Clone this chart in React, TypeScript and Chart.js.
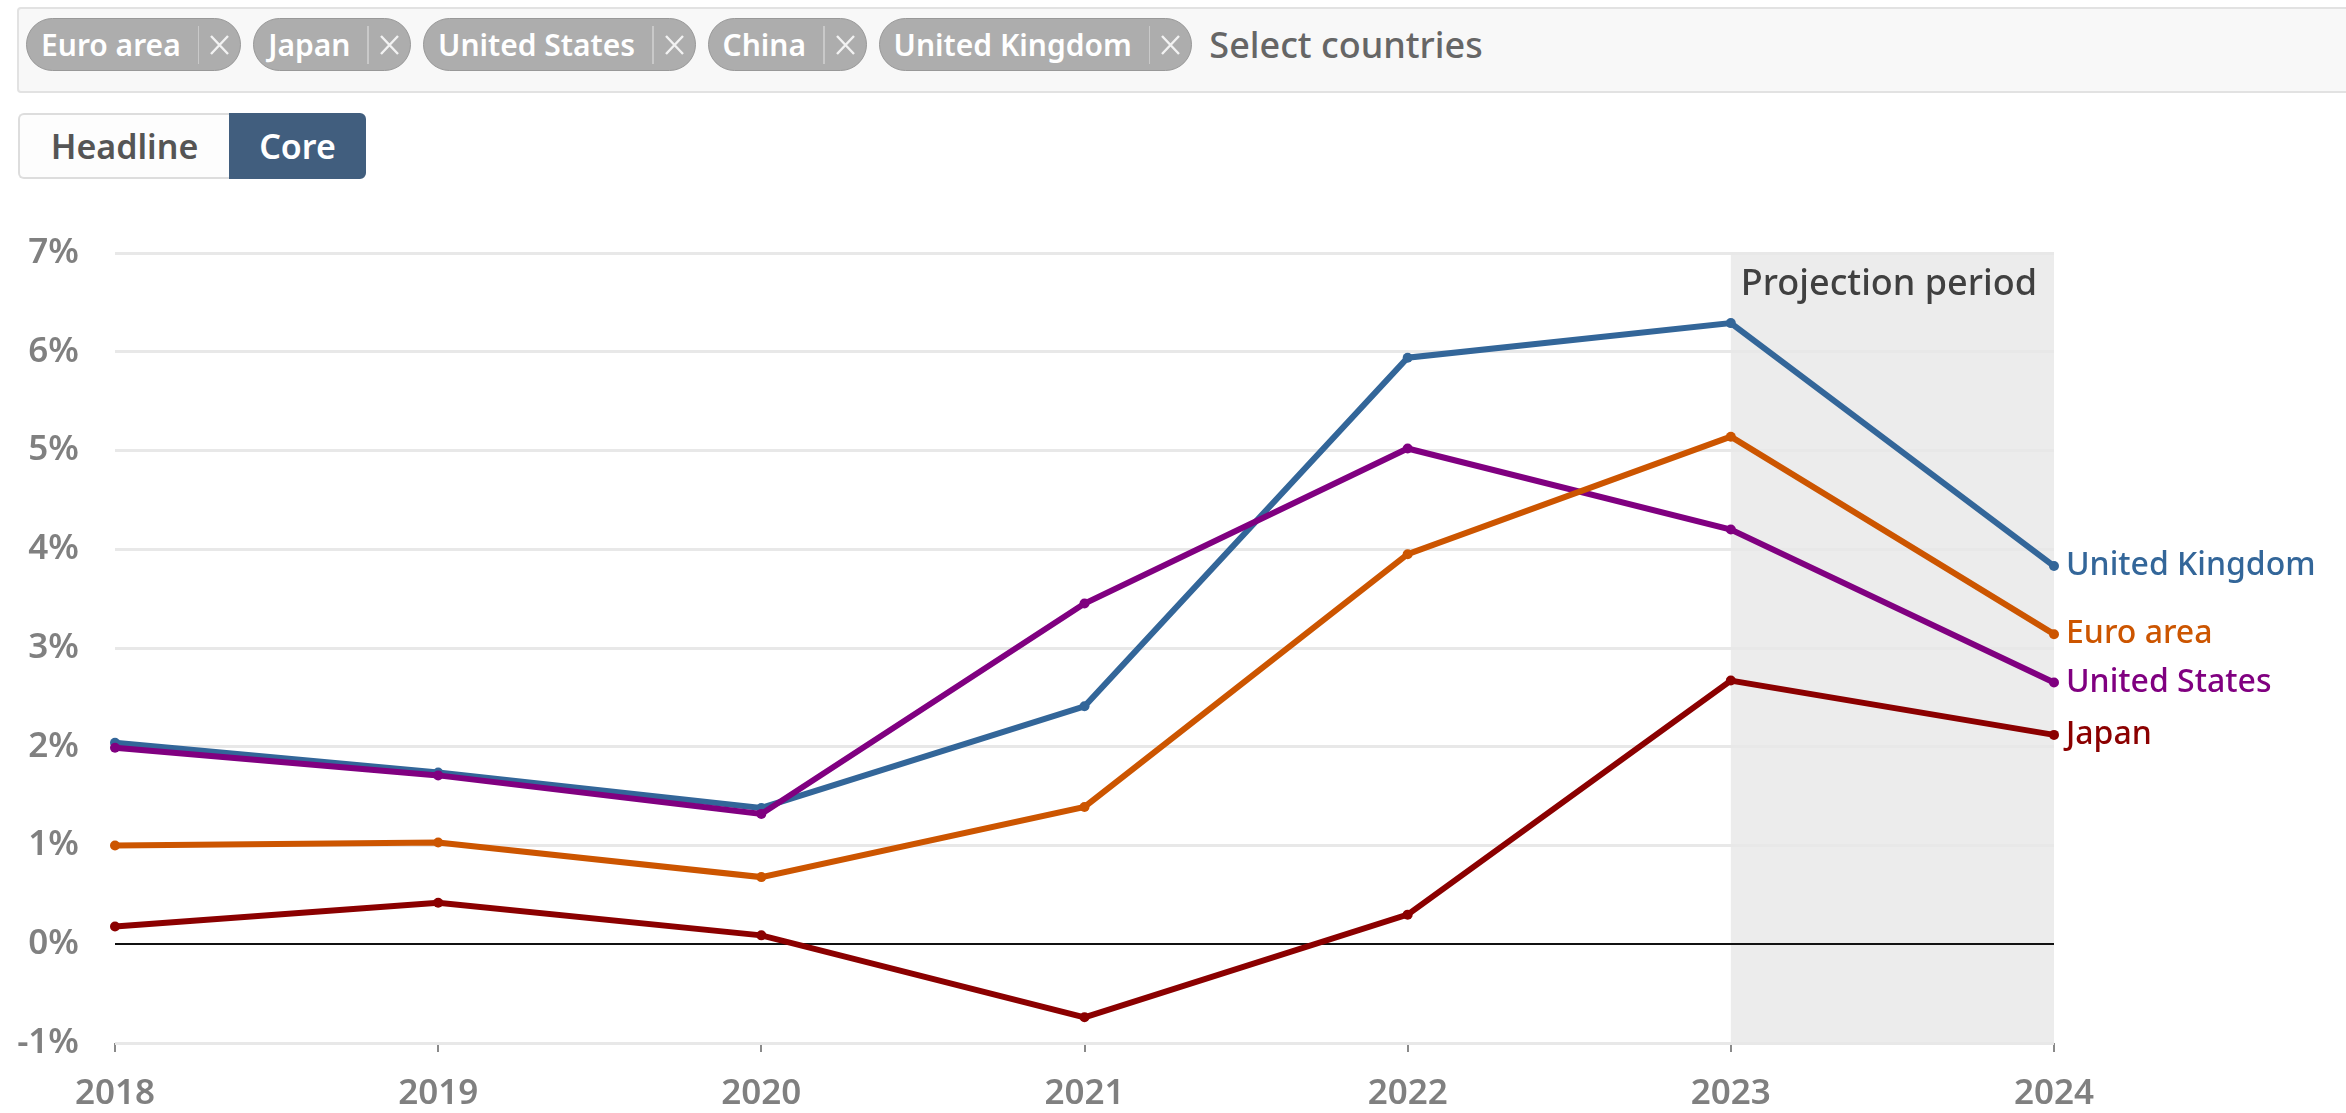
import React, { useEffect, useRef } from "react";
import { Chart, registerables } from "chart.js";

Chart.register(...registerables);

const years = ["2018", "2019", "2020", "2021", "2022", "2023", "2024"];
const euroArea = [1.0, 1.03, 0.68, 1.39, 3.95, 5.14, 3.14];
const japan = [0.18, 0.42, 0.09, -0.74, 0.3, 2.67, 2.12];
const unitedStates = [1.99, 1.71, 1.32, 3.45, 5.02, 4.2, 2.65];
const unitedKingdom = [2.04, 1.74, 1.38, 2.41, 5.94, 6.29, 3.83];
const countryChips = ["Euro area", "Japan", "United States", "China", "United Kingdom"];
const modeButtons = ["Headline", "Core"];
const projectionFrom = "2023";
const projectionTo = "2024";
const projectionLabel = "Projection period";
const yMin = -1;
const yMax = 7;

const seriesList = [
  { label: "Euro area", data: euroArea, color: "#cc5500" },
  { label: "Japan", data: japan, color: "#8b0000" },
  { label: "United States", data: unitedStates, color: "#800080" },
  { label: "United Kingdom", data: unitedKingdom, color: "#336699" },
];

const FONT = "'Noto Sans', 'Open Sans', sans-serif";

function Chip({ label }: { label: string }) {
  return (
    <div
      style={{
        display: "flex",
        alignItems: "center",
        height: 53,
        boxSizing: "border-box",
        background: "#adadad",
        border: "1.5px solid #999",
        borderRadius: 27,
        paddingLeft: 14,
        marginRight: 12,
      }}
    >
      <span style={{ color: "#fff", fontWeight: 600, fontSize: 30, lineHeight: "1", whiteSpace: "nowrap" }}>{label}</span>
      <span style={{ width: 1.5, height: 38, background: "#c9c9c9", marginLeft: 17 }} />
      <svg width="21" height="20" viewBox="0 0 21 20" style={{ marginLeft: 10, marginRight: 10 }}>
        <path d="M2 1 L19 19 M19 1 L2 19" stroke="#f2f2f2" strokeWidth="2.4" />
      </svg>
    </div>
  );
}

export default function App() {
  const canvasRef = useRef<HTMLCanvasElement | null>(null);

  useEffect(() => {
    const canvas = canvasRef.current;
    if (!canvas) return;

    const overlay = {
      id: "overlay",
      beforeDraw(chart: any) {
        const { ctx, chartArea, scales } = chart;
        const x0 = scales.x.getPixelForValue(years.indexOf(projectionFrom));
        const x1 = scales.x.getPixelForValue(years.indexOf(projectionTo));
        ctx.save();
        ctx.fillStyle = "#ececec";
        ctx.fillRect(x0, chartArea.top, x1 - x0, chartArea.bottom - chartArea.top);
        ctx.restore();
      },
      afterDatasetsDraw(chart: any) {
        const { ctx, chartArea, scales } = chart;
        const x0 = scales.x.getPixelForValue(years.indexOf(projectionFrom));
        ctx.save();
        ctx.font = `500 36px ${FONT}`;
        ctx.fillStyle = "#404040";
        ctx.textAlign = "left";
        ctx.textBaseline = "alphabetic";
        ctx.fillText(projectionLabel, x0 + 10, chartArea.top + 42);
        chart.data.datasets.forEach((ds: any, i: number) => {
          const meta = chart.getDatasetMeta(i);
          const pt = meta.data[meta.data.length - 1];
          if (!pt) return;
          ctx.font = `500 32px ${FONT}`;
          ctx.fillStyle = ds.borderColor;
          ctx.textBaseline = "middle";
          ctx.fillText(ds.label, pt.x + 12, pt.y);
        });
        ctx.restore();
      },
    };

    const chart = new Chart(canvas, {
      type: "line",
      data: {
        labels: years,
        datasets: seriesList.map((s) => ({
          label: s.label,
          data: s.data,
          borderColor: s.color,
          backgroundColor: s.color,
          pointBackgroundColor: s.color,
          pointBorderColor: s.color,
          borderWidth: 6,
          pointRadius: 5,
          pointBorderWidth: 0,
          tension: 0,
          fill: false,
        })),
      },
      options: {
        animation: false,
        responsive: false,
        devicePixelRatio: 1,
        layout: { padding: { left: 0, top: 63, right: 292, bottom: 0 } },
        plugins: {
          legend: { display: false },
          tooltip: { enabled: false },
          title: { display: false },
        },
        scales: {
          x: {
            type: "category",
            offset: false,
            border: { display: false },
            grid: {
              display: true,
              drawOnChartArea: false,
              drawTicks: true,
              tickLength: 9,
              color: "#8a8a8a",
              lineWidth: 2,
            },
            ticks: {
              padding: 21,
              color: "#808080",
              font: { family: FONT, size: 35, weight: "600" },
              maxRotation: 0,
              autoSkip: false,
            },
            afterFit: (scale: any) => {
              scale.height = 70;
            },
          },
          y: {
            min: yMin,
            max: yMax,
            border: { display: false },
            grid: {
              drawTicks: false,
              color: (c: any) => (c.tick && c.tick.value === 0 ? "#111111" : "#e8e8e8"),
              lineWidth: (c: any) => (c.tick && c.tick.value === 0 ? 2 : 3),
            },
            ticks: {
              stepSize: 1,
              padding: 36,
              color: "#808080",
              font: { family: FONT, size: 35, weight: "600" },
              callback: (v: any) => `${v}%`,
            },
            afterFit: (scale: any) => {
              scale.width = 115;
            },
          },
        },
      },
      plugins: [overlay],
    } as any);

    return () => chart.destroy();
  }, []);

  return (
    <div style={{ position: "absolute", left: 0, top: 0, width: 2346, height: 1113, overflow: "hidden", background: "#fff", fontFamily: FONT }}>
      <div
        style={{
          position: "absolute",
          left: 17,
          top: 7,
          width: 2340,
          height: 86,
          boxSizing: "border-box",
          background: "#f8f8f8",
          border: "2px solid #e2e2e2",
          borderRadius: 4,
          display: "flex",
          alignItems: "flex-start",
          paddingTop: 9,
          paddingLeft: 7,
        }}
      >
        {countryChips.map((c) => (
          <Chip key={c} label={c} />
        ))}
        <span style={{ color: "#666666", fontSize: 36, fontWeight: 500, lineHeight: "53px", marginLeft: 5, whiteSpace: "nowrap" }}>
          Select countries
        </span>
      </div>
      <div style={{ position: "absolute", left: 18, top: 113, height: 66, display: "flex" }}>
        {modeButtons.map((b, i) => {
          const active = b === "Core";
          return (
            <div
              key={b}
              style={{
                width: i === 0 ? 211 : 137,
                height: 66,
                boxSizing: "border-box",
                display: "flex",
                alignItems: "center",
                justifyContent: "center",
                fontSize: 34,
                fontWeight: 600,
                color: active ? "#ffffff" : "#555555",
                background: active ? "#415e7e" : "#fdfdfd",
                border: active ? "2px solid #415e7e" : "2px solid #dddddd",
                borderRight: active ? "2px solid #415e7e" : "none",
                borderRadius: i === 0 ? "6px 0 0 6px" : "0 6px 6px 0",
              }}
            >
              {b}
            </div>
          );
        })}
      </div>
      <canvas
        ref={canvasRef}
        width={2346}
        height={923}
        style={{ position: "absolute", left: 0, top: 190, width: 2346, height: 923 }}
      />
    </div>
  );
}
